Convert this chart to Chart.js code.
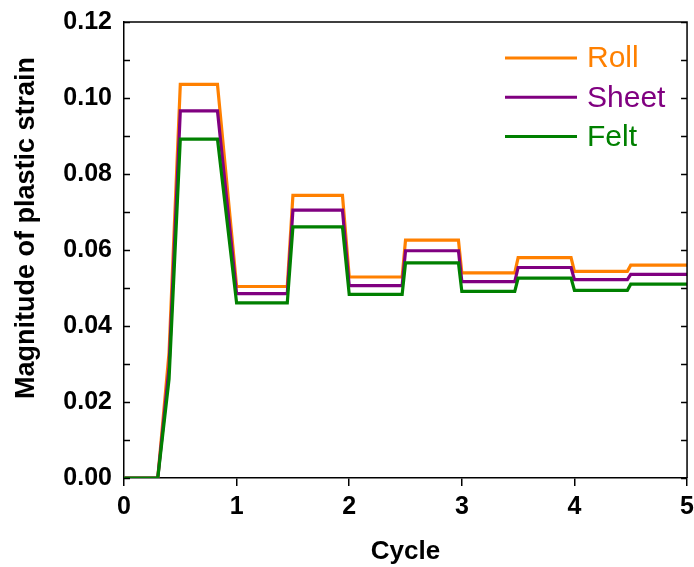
<!DOCTYPE html>
<html>
<head>
<meta charset="utf-8">
<script src="https://cdn.jsdelivr.net/npm/chart.js@4.4.1/dist/chart.umd.min.js"></script>
<style>
    html, body { margin: 0; padding: 0; background: #fff; overflow: hidden; }
    #wrap { width: 700px; height: 567px; }
</style>
</head>
<body>
<div id="wrap"><canvas id="strainChart"></canvas></div>
<script>
// x positions (cycle) shared by all three curves
const cycles = [0, 0.3, 0.4, 0.5, 0.83, 1.0, 1.45, 1.5, 1.94, 2.0, 2.47, 2.5, 2.97, 3.0, 3.47, 3.5, 3.97, 4.0, 4.47, 4.5, 5.0];

const rollStrain  = [0, 0, 0.033, 0.1036, 0.1036, 0.0504, 0.0504, 0.0744, 0.0744, 0.0529, 0.0529, 0.0626, 0.0626, 0.0540, 0.0540, 0.0580, 0.0580, 0.0544, 0.0544, 0.0560, 0.0560];
const sheetStrain = [0, 0, 0.029, 0.0966, 0.0966, 0.0485, 0.0485, 0.0705, 0.0705, 0.0506, 0.0506, 0.0598, 0.0598, 0.0517, 0.0517, 0.0554, 0.0554, 0.0522, 0.0522, 0.0536, 0.0536];
const feltStrain  = [0, 0, 0.026, 0.0892, 0.0892, 0.0461, 0.0461, 0.0661, 0.0661, 0.0483, 0.0483, 0.0566, 0.0566, 0.0491, 0.0491, 0.0526, 0.0526, 0.0494, 0.0494, 0.0510, 0.0510];

const seriesNames = ['Roll', 'Sheet', 'Felt'];
const seriesColors = ['#ff8000', '#800080', '#008000'];

const xTickValues = [0, 1, 2, 3, 4, 5];
const yMinorStep = 0.01;
const yMajorStep = 0.02;
const yMax = 0.12;

const fontFamily = "'Liberation Sans', Arial, sans-serif";

function toPoints(values) {
    return cycles.map((c, i) => ({ x: c, y: values[i] }));
}

// box on top/right, inward y ticks on both sides, y title and legend
const frameAndLegend = {
    id: 'frameAndLegend',
    afterDatasetsDraw(chart) {
        const ctx = chart.ctx;
        const area = chart.chartArea;
        const yScale = chart.scales.y;

        ctx.save();
        ctx.strokeStyle = '#000';
        ctx.lineWidth = 1.5;
        ctx.beginPath();
        ctx.moveTo(area.left, area.top);
        ctx.lineTo(area.right, area.top);
        ctx.lineTo(area.right, area.bottom);
        const n = Math.round(yMax / yMinorStep);
        for (let i = 0; i <= n; i++) {
            const py = Math.round(yScale.getPixelForValue(i * yMinorStep)) + 0.5;
            ctx.moveTo(area.left, py);
            ctx.lineTo(area.left + 6, py);
            ctx.moveTo(area.right, py);
            ctx.lineTo(area.right - 6, py);
        }
        ctx.stroke();

        // y axis title
        ctx.fillStyle = '#000';
        ctx.font = 'bold 27px ' + fontFamily;
        ctx.textAlign = 'center';
        ctx.textBaseline = 'middle';
        ctx.translate(27, 228);
        ctx.rotate(-Math.PI / 2);
        ctx.fillText('Magnitude of plastic strain', 0, 0);
        ctx.restore();

        // legend
        ctx.save();
        ctx.font = '30px ' + fontFamily;
        ctx.textAlign = 'left';
        ctx.textBaseline = 'middle';
        chart.data.datasets.forEach((ds, i) => {
            const ly = 58 + i * 39.3;
            ctx.strokeStyle = ds.borderColor;
            ctx.lineWidth = 3;
            ctx.beginPath();
            ctx.moveTo(505, ly);
            ctx.lineTo(577, ly);
            ctx.stroke();
            ctx.fillStyle = ds.borderColor;
            ctx.fillText(ds.label, 587, ly + 1);
        });
        ctx.restore();
    }
};

const seriesValues = [rollStrain, sheetStrain, feltStrain];

new Chart(document.getElementById('strainChart'), {
    type: 'line',
    data: {
        datasets: seriesNames.map((name, i) => ({
            label: name,
            data: toPoints(seriesValues[i]),
            borderColor: seriesColors[i],
            backgroundColor: seriesColors[i],
            borderWidth: 3.2,
            pointRadius: 0,
            tension: 0,
            fill: false,
            order: 3 - i
        }))
    },
    options: {
        responsive: true,
        maintainAspectRatio: false,
        animation: false,
        layout: { padding: { top: 22, right: 11, left: 0, bottom: 0 } },
        plugins: {
            legend: { display: false },
            tooltip: { enabled: false }
        },
        scales: {
            x: {
                type: 'linear',
                min: 0,
                max: 5,
                afterBuildTicks: axis => { axis.ticks = xTickValues.map(v => ({ value: v })); },
                afterFit: axis => { axis.height = 89; },
                grid: { drawOnChartArea: false, drawTicks: true, tickLength: 8, color: '#000', lineWidth: 1.5 },
                border: { color: '#000', width: 1.5 },
                ticks: {
                    color: '#000',
                    padding: 6,
                    font: { family: fontFamily, size: 25, weight: 'bold' },
                    maxRotation: 0
                },
                title: {
                    display: true,
                    text: 'Cycle',
                    color: '#000',
                    padding: { top: 0, bottom: 0 },
                    font: { family: fontFamily, size: 26, weight: 'bold' }
                }
            },
            y: {
                min: 0,
                max: yMax,
                afterFit: axis => {
                    axis.width = 124;
                    axis.paddingTop = 0;
                    axis.paddingBottom = 0;
                },
                grid: { drawOnChartArea: false, drawTicks: false },
                border: { color: '#000', width: 1.5 },
                ticks: {
                    stepSize: yMajorStep,
                    color: '#000',
                    padding: 12,
                    font: { family: fontFamily, size: 25, weight: 'bold' },
                    callback: v => v.toFixed(2)
                }
            }
        }
    },
    plugins: [frameAndLegend]
});
</script>
</body>
</html>
